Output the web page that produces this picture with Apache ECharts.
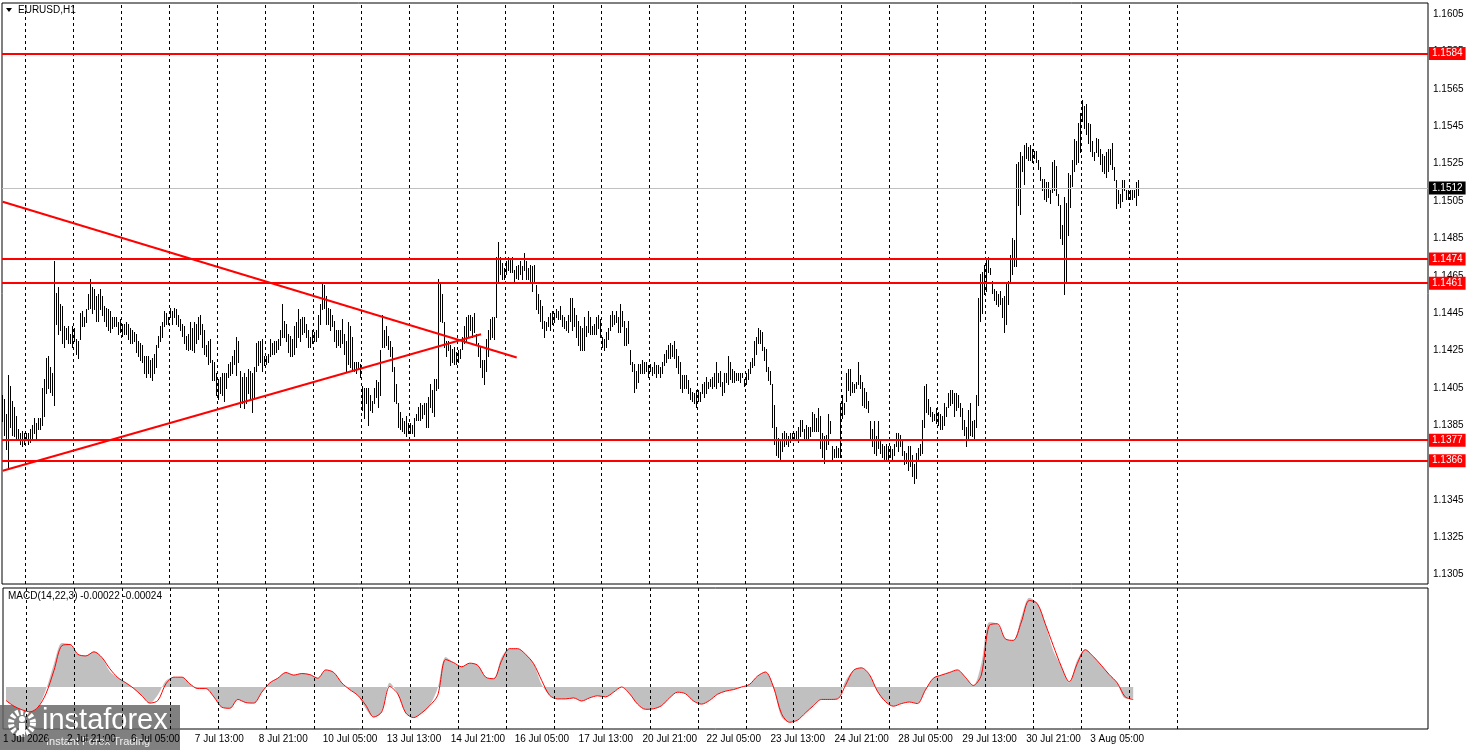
<!DOCTYPE html>
<html>
<head>
<meta charset="utf-8">
<title>EURUSD,H1</title>
<script src="https://cdn.jsdelivr.net/npm/echarts@6/dist/echarts.min.js"></script>
<style>
  html, body { margin: 0; padding: 0; background: #fff; }
  #chart { width: 1468px; height: 750px; }
</style>
</head>
<body>
<div id="chart"></div>
<script>
// H1 bars: pips above 1.1300
var BASE = 1.1300;
var barHigh = [
  101,99,91,112,106,98,95,90,83,81, 82,81,81,81,83,85,89,86,89,89,
  105,110,121,122,116,113,173,156,159,150, 149,138,137,138,134,138,137,131,130,145,
  146,143,147,155,163,159,158,154,155,158, 154,149,148,147,146,143,143,143,140,142,
  139,139,140,139,137,136,135,134,130,129, 128,122,122,122,120,121,123,128,133,138,
  140,146,145,143,148,146,148,147,144,142, 139,138,133,134,
  140,137,140,139,143,144,
  139,136,128,130,131,120,119,113,110,111, 113,113,113,118,119,122,125,132,130,114,
  111,113,111,115,114,113,116,129,130,130, 131,122,122,123,131,129,130,130,131,136,
  150,141,139,134,133,131,138,140,147,142, 143,143,139,136,132,136,135,136,144,150,
  161,160,154,148,147,144,141,136,136,136, 142,134,130,140,138,132,119,119,119,118,
  106,105,105,105,101,98,105,109,108,
  125,
  144,136,138,133,130,127,116,107,97,92, 89,87,90,86,86,85,89,91,95,97,
  96,97,97,100,107,104,110,110,163,161, 155,140,130,130,128,126,127,124,125,126,
  132,138,143,144,144,143,145,134,129,127, 120,120,131,136,142,143,143,175,183,175,
  172,169,173,175,174,175,168,170,171,173, 170,177,173,169,171,170,171,160,155,152,
  149,141,140,143,145,146,145,147,146,149, 144,143,141,144,
  153,153,148,144,141,138,
  137,143,138,146,143,138,139,143,144,142, 132,131,135,137,144,146,144,146,143,150,
  146,141,137,141,125,119,118,114,118,118, 120,119,119,117,118,116,119,117,117,116,
  119,123,125,128,129,128,130,126,122,119, 112,112,112,109,105,103,102,104,104,103,
  107,108,111,108,110,111,113,119,113,114, 108,113,113,122,119,115,114,113,113,113,
  113,110,113,115,119,121,130,132,137,
  136,
  135,127,126,116,114,107,96,84,78,77, 81,82,81,79,81,81,81,82,84,88,
  88,83,85,84,84,92,91,89,94,90, 81,79,80,91,87,74,72,74,73,97,
  101,97,113,115,115,108,107,108,119,112, 108,105,103,98,87,83,87,79,87,77,
  75,74,75,74,74,72,75,81,81,80, 77,71,70,74,74,69,64,70,73,75,
  88,106,107,99,95,92,91,94,92,91, 90,97,95,102,
  104,104,102,102,101,97,
  94,88,84,93,97,87,88,101,153,166, 167,171,174,175,169,162,158,157,155,157,
  153,154,161,162,176,185,184,225,226,231, 229,235,236,234,235,233,232,232,227,223,
  217,217,215,215,211,226,227,224,209,203, 192,207,204,220,219,227,238,237,247,252,
  259,256,257,247,246,237,231,239,238,233, 230,229,231,233,233,236,223,216,211,209,
  216,216,211,211,211,211,211,215,216
];
var barLow = [
  87,80,72,62,84,80,79,77,77,75, 74,75,78,75,76,78,81,78,83,83,
  85,90,102,105,103,101,96,139,134,136, 129,127,131,129,129,127,130,123,121,131,
  138,138,140,147,148,145,147,141,141,147, 144,141,138,136,135,137,138,138,134,135,
  133,134,134,131,129,129,130,124,122,120, 119,113,111,113,111,109,113,116,127,130,
  132,138,139,139,143,139,143,139,138,136, 133,129,126,125,
  126,125,124,129,131,134,
  127,123,122,118,119,109,109,101,99,102, 101,98,105,111,112,113,118,112,119,95,
  97,94,97,102,99,92,100,114,117,119, 114,117,118,119,122,123,123,124,126,128,
  132,132,130,124,122,122,123,127,132,130, 134,135,132,127,127,129,130,130,132,139,
  147,148,139,139,136,138,130,127,128,127, 129,123,114,118,116,114,114,113,115,111,
  93,89,97,85,93,92,97,100,95,
  101,
  127,127,128,126,122,114,98,97,84,83, 82,81,79,81,81,81,79,88,88,88,
  89,91,84,84,95,92,90,104,105,141, 140,127,122,125,117,119,118,118,119,121,
  126,129,130,133,136,132,135,128,122,116, 111,107,114,122,131,132,131,143,162,166,
  163,163,166,168,167,167,162,164,163,166, 163,168,163,163,161,157,161,147,145,141,
  137,132,136,138,136,139,140,143,142,142, 138,137,136,135,
  141,136,138,132,128,125,
  125,125,133,135,134,134,134,134,137,132, 127,125,127,131,136,138,139,140,135,135,
  138,128,128,129,118,114,103,105,108,113, 113,113,114,111,114,112,113,111,113,111,
  113,117,119,121,121,122,121,116,113,105, 103,105,105,102,99,98,97,95,98,98,
  102,100,102,105,106,105,106,105,108,106, 101,103,108,107,110,108,108,109,109,108,
  111,106,107,110,113,116,117,123,129,
  129,
  125,120,114,109,107,84,75,69,68,66, 71,74,75,74,76,77,77,77,76,79,
  82,78,78,78,79,82,82,82,82,73, 68,65,72,75,81,67,68,68,68,68,
  89,91,98,104,101,103,103,105,107,105, 96,95,94,92,77,74,70,69,73,70,
  68,67,67,66,68,67,69,74,71,74, 69,64,65,61,63,58,54,57,66,69,
  70,84,92,91,90,87,88,86,85,83, 83,85,90,95,
  96,97,90,93,95,90,
  83,80,74,77,80,79,78,84,96,141, 145,155,157,167,166,156,152,150,149,150,
  143,135,139,150,162,166,170,170,203,198, 221,214,228,227,227,226,228,226,222,216,
  211,206,205,207,204,210,211,208,203,185, 182,155,162,187,202,213,221,225,226,231,
  248,244,241,236,232,229,227,231,229,225, 221,220,218,221,225,222,216,201,204,202,
  205,211,206,206,206,206,207,203,208
];

// MACD(14,22,3), one reading per 4 bars, in 0.00001
var macdMain = [
  -26,-37,-44,-48,-39,-5,45,85,82,63, 60,68,57,30,18,8,-3,-17,-31,-15,
  12,19,19,6,-3,-3,-19,-39,-41,-24, -30,-31,-10,8,17,28,23,26,24,17,
  33,28,8,-5,-16,-42,-58,-48,8,-13, -50,-59,-50,-36,-2,58,47,39,46,42,
  19,16,58,74,74,63,45,5,-16,-23, -23,-21,-27,-21,-17,-19,-10,0,-13,-33,
  -43,-42,-36,-21,-10,-13,-27,-33,-26,-14, -8,-5,0,5,21,29,0,-58,-68,-64,
  -50,-36,-24,-24,-23,12,32,37,24,-8, -28,-37,-32,-29,-32,-6,17,23,28,33,
  19,3,45,125,122,93,90,135,172,161, 122,70,40,8,52,72,59,42,24,8,
  -22,-22
];
var macdSignal = [
  -26,-37,-44,-48,-39,-13,32,80,82,63, 60,68,57,35,18,8,-3,-17,-31,-26,
  6,19,19,6,-3,-3,-19,-39,-41,-24, -30,-31,-10,8,17,28,23,26,24,17,
  33,28,8,-5,-16,-35,-58,-48,1,-13, -50,-59,-50,-36,-16,53,47,39,46,42,
  19,16,51,74,74,63,45,13,-16,-23, -23,-21,-27,-21,-17,-19,-10,0,-13,-33,
  -43,-42,-36,-21,-10,-13,-27,-33,-26,-14, -8,-5,0,5,21,29,0,-51,-68,-64,
  -50,-36,-24,-24,-23,3,32,37,24,-8, -28,-37,-32,-29,-32,-6,17,23,28,33,
  19,3,23,119,122,93,90,125,167,161, 122,80,40,10,45,72,59,42,24,8,
  -19,-24
];

// time axis labels (bar index -> text)
var timeIdx = [0,32,64,96,128,160,192,224,256,288,320,352,384,416,448,480,512,544];
var timeText = ['1 Jul 2026','2 Jul 21:00','6 Jul 05:00','7 Jul 13:00','8 Jul 21:00','10 Jul 05:00',
  '13 Jul 13:00','14 Jul 21:00','16 Jul 05:00','17 Jul 13:00','20 Jul 21:00','22 Jul 05:00',
  '23 Jul 13:00','24 Jul 21:00','28 Jul 05:00','29 Jul 13:00','30 Jul 21:00','3 Aug 05:00'];

// horizontal levels and trend lines drawn on the chart
var levels = [1.1584, 1.1474, 1.1461, 1.1377, 1.1366];
var lastPrice = 1.1512;
var trendDown = [[0.35, 1.15046], [257.35, 1.14212]];
var trendUp = [[0.35, 1.13606], [239.5, 1.14337]];

var FONT = '"Liberation Sans", Arial, sans-serif';

var bars = barHigh.map(function (h, i) {
  return [i, BASE + barLow[i] / 10000, BASE + h / 10000];
});
var hist = macdMain.map(function (v, j) { return [4 * j + 1.5, v / 100000]; });
var signal = macdSignal.map(function (v, j) { return [4 * j + 1.5, v / 100000]; });

var labelMap = {};
timeIdx.forEach(function (t, k) { labelMap[t] = timeText[k]; });

// dashed vertical grid
var vLines = [];
for (var k = 0; k < 25; k++) vLines.push({ xAxis: 11.65 + 24 * k });
var gridLineStyle = { color: '#000', type: [3, 3], width: 1 };

var levelData = levels.map(function (v) {
  return { yAxis: v, lineStyle: { color: '#ff0000', width: 2, type: 'solid' },
    label: { formatter: v.toFixed(4), backgroundColor: '#ff0000' } };
});
levelData.push({ yAxis: lastPrice, lineStyle: { color: '#c0c0c0', width: 1, type: 'solid' },
  label: { formatter: lastPrice.toFixed(4), backgroundColor: '#000' } });

var chart = echarts.init(document.getElementById('chart'));
chart.setOption({
  animation: false,
  backgroundColor: '#fff',
  textStyle: { fontFamily: FONT },
  grid: [
    { left: 2, right: 40, top: 3, height: 581, show: true, borderColor: '#000', borderWidth: 1, backgroundColor: '#fff' },
    { left: 2, right: 40, top: 588, height: 141, show: true, borderColor: '#000', borderWidth: 1, backgroundColor: '#fff' }
  ],
  xAxis: [
    { gridIndex: 0, type: 'value', min: 0, max: 713, axisLine: { show: false, onZero: false }, axisTick: { show: false },
      axisLabel: { show: false }, splitLine: { show: false } },
    { gridIndex: 1, type: 'value', min: 0, max: 713, interval: 32, position: 'bottom',
      axisLine: { show: false, onZero: false }, axisTick: { show: false },
      splitLine: { show: false },
      axisLabel: { show: true, color: '#000', fontSize: 10, fontFamily: FONT, align: 'left', margin: 5,
        showMinLabel: true, showMaxLabel: false,
        formatter: function (v) { return labelMap[Math.round(v)] || ''; } } }
  ],
  yAxis: [
    { gridIndex: 0, type: 'value', position: 'right', min: 1.1300, max: 1.1611, interval: 0.0005,
      axisLine: { show: false }, axisTick: { show: false }, splitLine: { show: false },
      axisLabel: { color: '#000', fontSize: 10, fontFamily: FONT, margin: 5,
        formatter: function (v) { return Math.round(v * 10000) % 20 === 5 ? v.toFixed(4) : ''; } } },
    { gridIndex: 1, type: 'value', position: 'right', min: -0.00081, max: 0.00191,
      axisLine: { show: false }, axisTick: { show: false }, splitLine: { show: false },
      axisLabel: { show: false } }
  ],
  series: [
    {
      name: 'EURUSD', type: 'custom', xAxisIndex: 0, yAxisIndex: 0, z: 3,
      data: bars, encode: { x: 0, y: [1, 2] },
      renderItem: function (params, api) {
        var top = api.coord([api.value(0), api.value(2)]);
        var bot = api.coord([api.value(0), api.value(1)]);
        var x = Math.round(top[0]) + 0.5;
        return { type: 'line', shape: { x1: x, y1: Math.round(top[1]), x2: x, y2: Math.round(bot[1]) + 1 },
          style: { stroke: '#000', lineWidth: 1 } };
      },
      markLine: { silent: true, precision: 3, symbol: ['none', 'none'], label: { show: false }, lineStyle: gridLineStyle, data: vLines }
    },
    {
      name: 'trend down', type: 'line', xAxisIndex: 0, yAxisIndex: 0, z: 5, data: trendDown,
      symbol: 'none', lineStyle: { color: '#ff0000', width: 2 },
      markLine: { silent: true, precision: 6, symbol: ['none', 'none'],
        label: { show: true, position: 'end', distance: 1, color: '#fff', fontSize: 10, fontFamily: FONT,
          padding: [2, 3, 1, 3] },
        data: levelData }
    },
    {
      name: 'trend up', type: 'line', xAxisIndex: 0, yAxisIndex: 0, z: 5, data: trendUp,
      symbol: 'none', lineStyle: { color: '#ff0000', width: 2 }
    },
    {
      name: 'MACD', type: 'line', xAxisIndex: 1, yAxisIndex: 1, z: 2, data: hist,
      symbol: 'none', smooth: 0.3, lineStyle: { width: 0, color: '#c0c0c0' },
      areaStyle: { color: '#c0c0c0', opacity: 1, origin: 'auto' },
      markLine: { silent: true, precision: 3, symbol: ['none', 'none'], label: { show: false }, lineStyle: gridLineStyle, data: vLines }
    },
    {
      name: 'Signal', type: 'line', xAxisIndex: 1, yAxisIndex: 1, z: 4, data: signal,
      symbol: 'none', smooth: 0.3, lineStyle: { color: '#ff0000', width: 1 },
      markLine: { silent: true, precision: 6, symbol: ['none', 'none'], lineStyle: { opacity: 0 },
        label: { show: true, position: 'end', distance: 4, color: '#000', fontSize: 10, fontFamily: FONT },
        data: [
          { yAxis: 0.00178, label: { formatter: '0.00178' } },
          { yAxis: 0, label: { formatter: '0.00' } },
          { yAxis: -0.00071, label: { formatter: '-0.00075' } }
        ] }
    }
  ],
  graphic: [
    { type: 'polygon', z: 50, shape: { points: [[6, 8], [12, 8], [9, 12]] }, style: { fill: '#000' } },
    { type: 'text', z: 50, left: 18, top: 5, style: { text: 'EURUSD,H1', font: '10px ' + FONT, fill: '#000' } },
    { type: 'text', z: 50, left: 8, top: 591, style: { text: 'MACD(14,22,3) -0.00022 -0.00024', font: '10px ' + FONT, fill: '#000' } },
    { type: 'group', z: 100, left: 0, top: 705, children: [
      { type: 'rect', shape: { x: 0, y: 0, width: 180, height: 45 }, style: { fill: 'rgba(100,100,100,0.82)' } },
      { type: 'circle', shape: { cx: 22, cy: 18, r: 11 }, style: { fill: 'none', stroke: '#fff', lineWidth: 6, lineDash: [3, 2] } },
      { type: 'circle', shape: { cx: 22, cy: 14, r: 3 }, style: { fill: '#fff' } },
      { type: 'rect', shape: { x: 19, y: 18, width: 6, height: 12 }, style: { fill: '#fff' } },
      { type: 'text', x: 42, y: 1, style: { text: 'instaforex', font: '29px ' + FONT, fill: '#fff' } },
      { type: 'text', x: 46, y: 31, style: { text: 'Instant Forex Trading', font: '11px ' + FONT, fill: '#eee' } }
    ] }
  ]
});
</script>
</body>
</html>
